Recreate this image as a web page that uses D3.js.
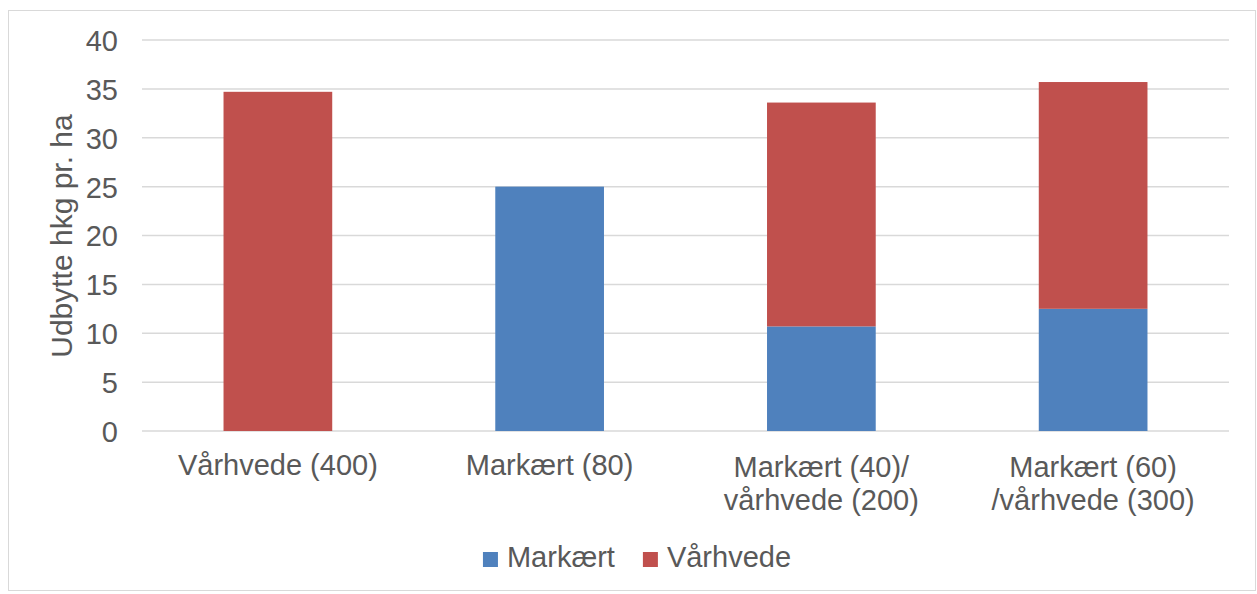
<!DOCTYPE html>
<html><head><meta charset="utf-8">
<script src="https://cdn.jsdelivr.net/npm/d3@7"></script>
<style>
html,body{margin:0;padding:0;background:#fff;}
text{font-family:"Liberation Sans",Arial,sans-serif;fill:#595959;}
</style></head>
<body>
<svg id="chart" width="1257" height="594"></svg>
<script>
const categories = [["Vårhvede (400)"], ["Markært (80)"], ["Markært (40)/", "vårhvede (200)"], ["Markært (60)", "/vårhvede (300)"]];
const seriesNames = ["Markært", "Vårhvede"];
const markaert = [0, 25.0, 10.7, 12.5];
const varhvede = [34.7, 0, 22.9, 23.2];
const yTicks = [0, 5, 10, 15, 20, 25, 30, 35, 40];
const colors = ["#4F81BD", "#C0504D"];

(function(){
const svg = d3.select("#chart");
const fs = 29;
svg.append("rect").attr("x", 8.5).attr("y", 10.5).attr("width", 1247).attr("height", 580)
  .attr("fill", "#fff").attr("stroke", "#d9d9d9").attr("stroke-width", 1);

const pL = 142, pR = 1229, pT = 40, pB = 431;
const x = d3.scaleBand().domain(d3.range(categories.length)).range([pL, pR]).paddingInner(0.6).paddingOuter(0.3);
const y = d3.scaleLinear().domain([0, 40]).range([pB, pT]);

svg.append("g").selectAll("line").data(yTicks).join("line")
  .attr("x1", pL).attr("x2", pR)
  .attr("y1", d => y(d)).attr("y2", d => y(d))
  .attr("stroke", "#d9d9d9").attr("stroke-width", 1.5);

const yAxis = d3.axisLeft(y).tickValues(yTicks).tickSize(0).tickPadding(0);
const ya = svg.append("g").attr("transform", `translate(118,0)`).call(yAxis);
ya.select(".domain").remove();
ya.selectAll("text").attr("font-size", fs).style("font-family", '"Liberation Sans",Arial,sans-serif').attr("fill", "#595959").attr("dy", "0.36em");

const rows = categories.map((c, i) => ({i, m: markaert[i], v: varhvede[i]}));
const stack = d3.stack().keys(["m", "v"])(rows);
svg.append("g").selectAll("g").data(stack).join("g")
  .attr("fill", (d, k) => colors[k])
  .selectAll("rect").data(d => d).join("rect")
  .attr("x", d => x(d.data.i)).attr("width", x.bandwidth())
  .attr("y", d => y(d[1])).attr("height", d => y(d[0]) - y(d[1]));

const xl = svg.append("g");
categories.forEach((lines, i) => {
  const t = xl.append("text").attr("text-anchor", "middle").attr("font-size", fs)
    .attr("x", x(i) + x.bandwidth() / 2);
  lines.forEach((ln, j) => {
    t.append("tspan").attr("x", x(i) + x.bandwidth() / 2)
      .attr("y", lines.length > 1 ? 477 + j * 33 : 475).text(ln);
  });
});

svg.append("text").attr("transform", "translate(72,236) rotate(-90)")
  .attr("text-anchor", "middle").attr("font-size", 30).text("Udbytte hkg pr. ha");

const lg = svg.append("g");
const items = [];
seriesNames.forEach((n, k) => {
  const g = lg.append("g");
  g.append("rect").attr("x", 0).attr("y", 552).attr("width", 15).attr("height", 15).attr("fill", colors[k]);
  const tx = g.append("text").attr("x", 24).attr("y", 567).attr("font-size", fs).text(n);
  const w = 24 + tx.node().getComputedTextLength();
  items.push({g, w});
});
const gap = 28;
const total = d3.sum(items, d => d.w) + gap * (items.length - 1);
let sx = 637 - total / 2;
items.forEach(it => { it.g.attr("transform", `translate(${sx},0)`); sx += it.w + gap; });
})();
</script>
</body></html>
